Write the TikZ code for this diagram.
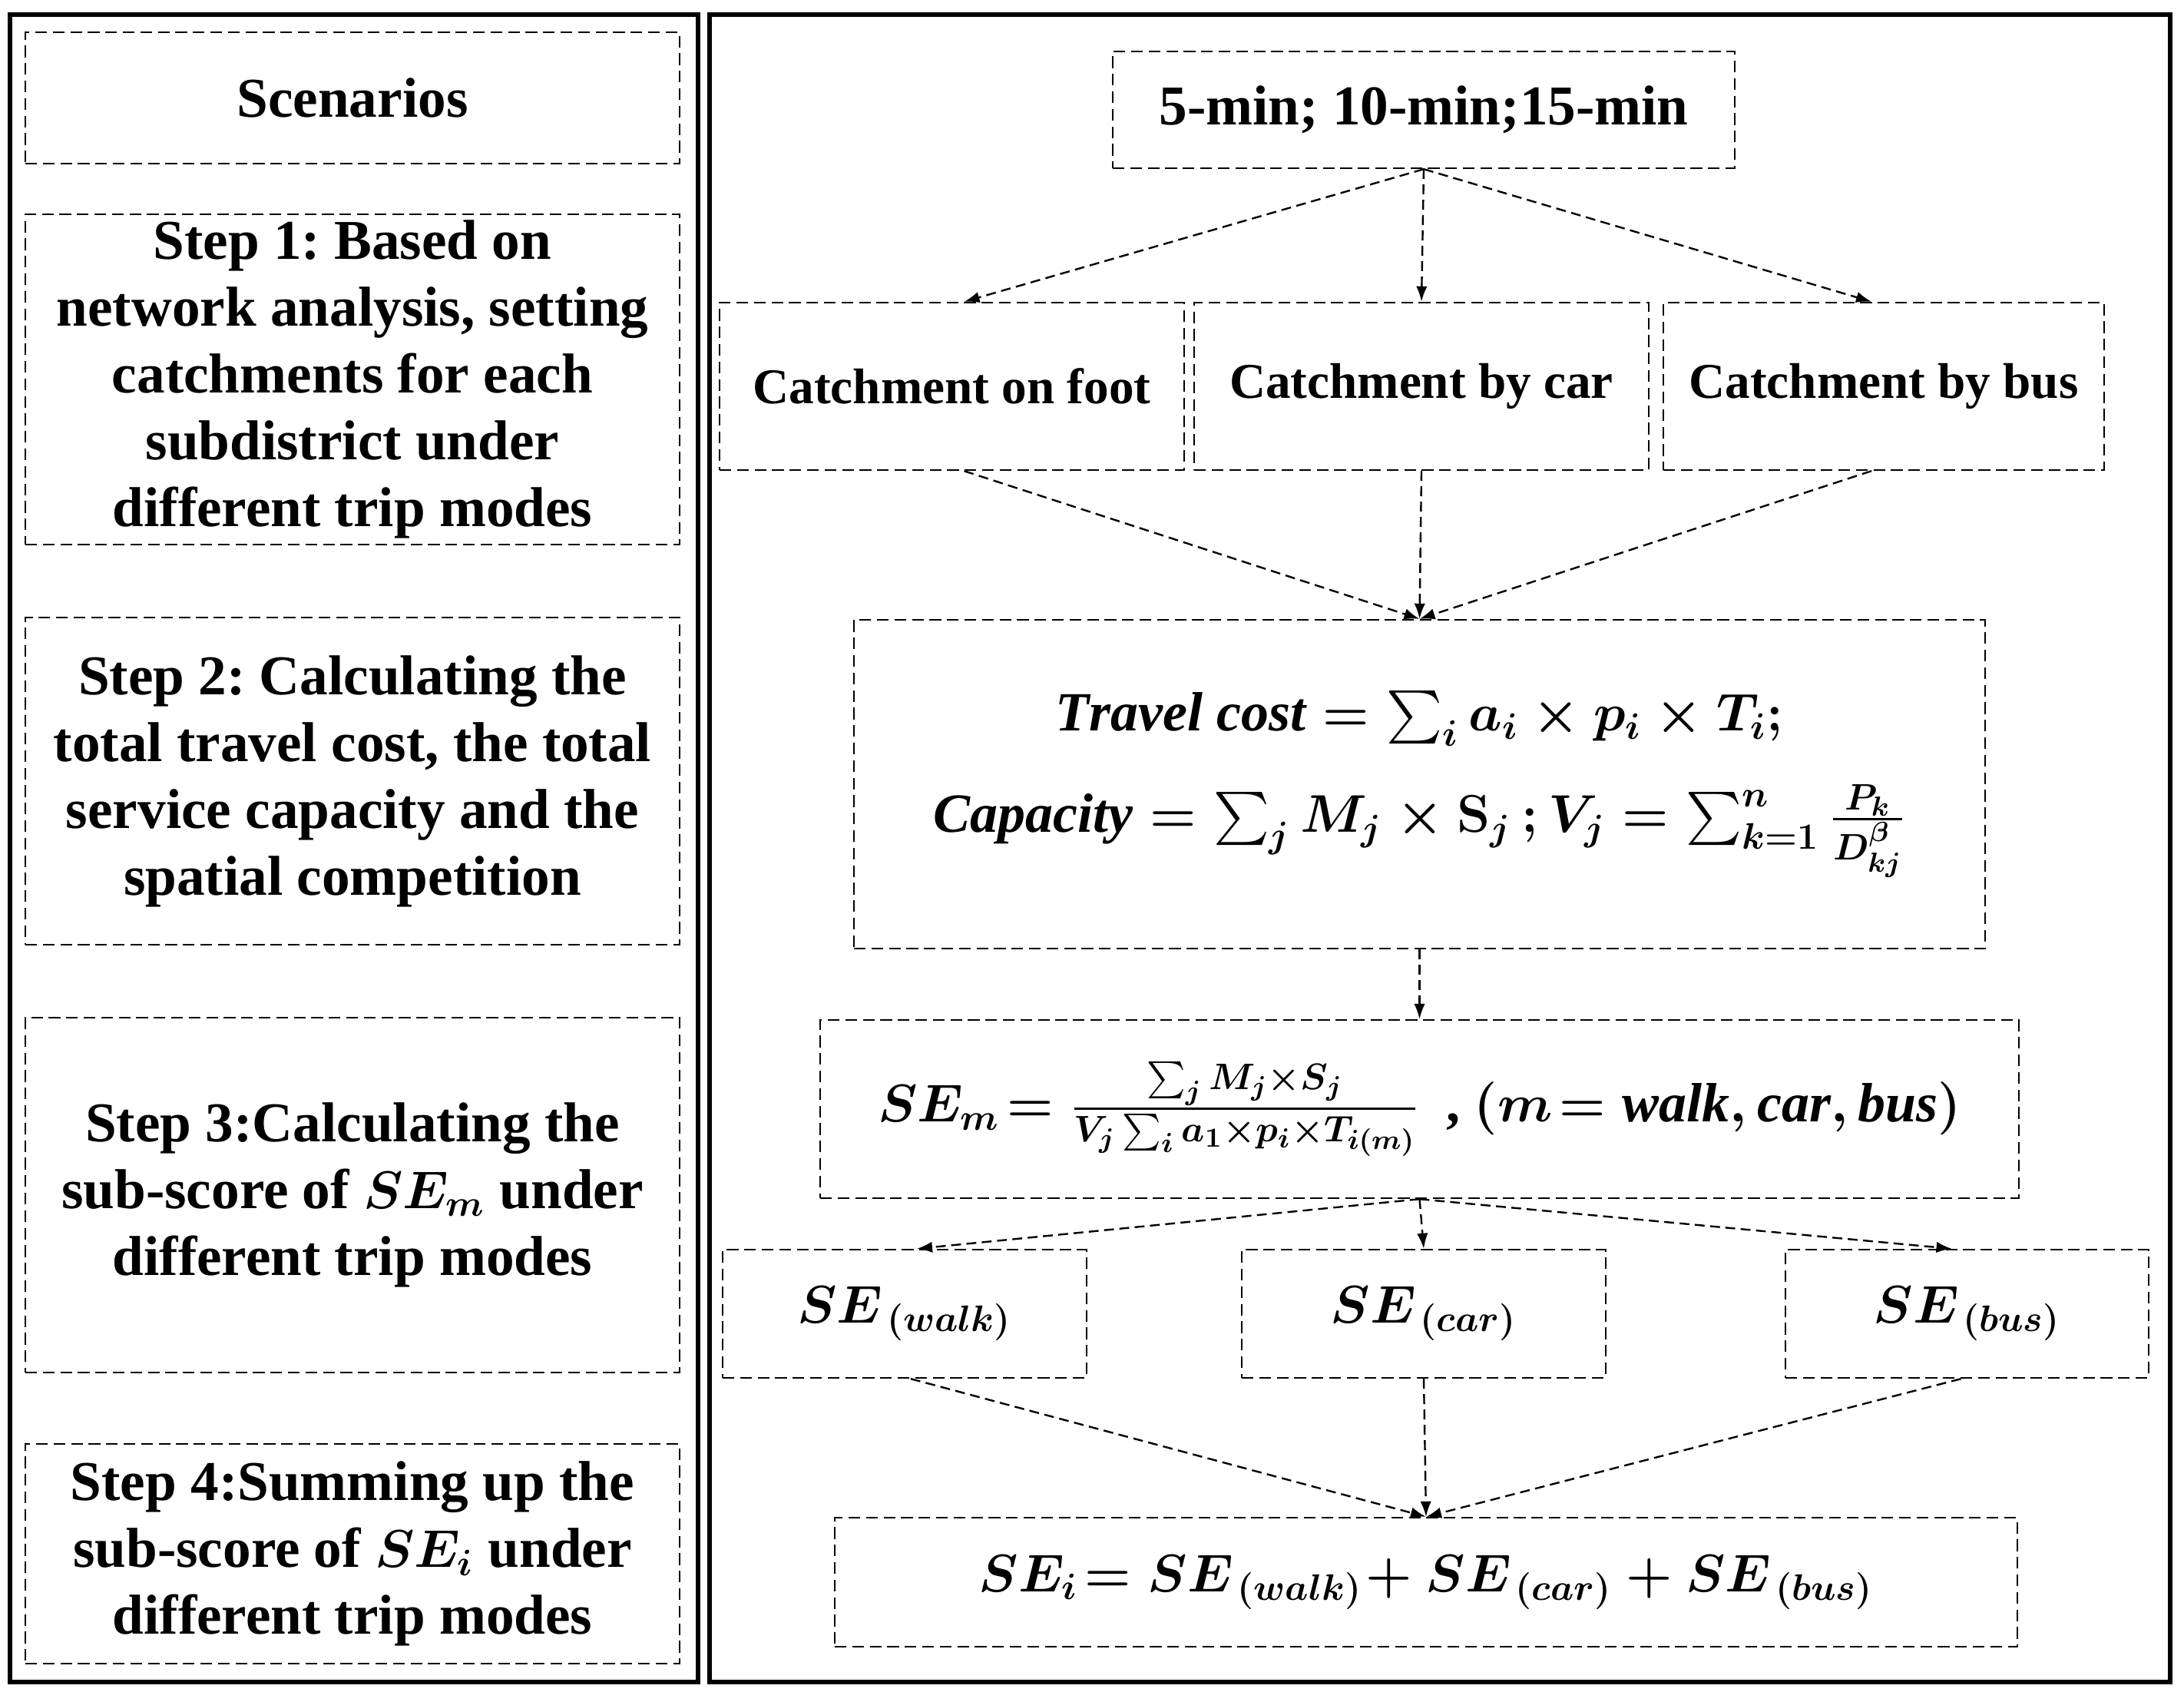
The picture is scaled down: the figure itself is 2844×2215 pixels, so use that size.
\documentclass[tikz,border=0pt]{standalone}
\usepackage{fontspec}
\usepackage{amsmath}
\setmainfont{Liberation Serif}
\usetikzlibrary{arrows.meta,calc}
\frenchspacing
\begin{document}
\begin{tikzpicture}[x=0.25pt,y=-0.25pt,
  outerbox/.style={draw, line width=1.7pt, inner sep=0pt},
  dbox/.style={draw, line width=0.6pt, dash pattern=on 3.8pt off 1.9pt, inner sep=2pt, align=center,
    font=\fontsize{18.3}{21.75}\selectfont\bfseries\boldmath},
  cbox/.style={dbox, font=\fontsize{16.3}{19.5}\selectfont\bfseries},
  mbox/.style={dbox, font=\fontsize{18}{25}\selectfont\bfseries\boldmath},
  arr/.style={line width=0.6pt, dash pattern=on 3.2pt off 1.8pt, -{Latex[length=5pt,width=3.6pt]}}
]
\useasboundingbox (0,0) rectangle (2844,2215);
\fill[white] (0,0) rectangle (2844,2215);
% outer frames
\node[outerbox, minimum width=224pt, minimum height=542.75pt] (L) at (461,1104.5) {};
\node[outerbox, minimum width=475.5pt, minimum height=542.75pt] (R) at (1875,1104.5) {};
% left column
\node[dbox, minimum width=213pt, minimum height=42.75pt] (scen) at (459,127.5) {Scenarios};
\node[dbox, minimum width=213pt, minimum height=106.75pt] (s1) at (459,494)
  {Step 1: Based on\\ network analysis, setting\\ catchments for each\\ subdistrict under\\ different trip modes};
\node[dbox, minimum width=213pt, minimum height=106.5pt] (s2) at (459,1017)
  {Step 2: Calculating the\\ total travel cost, the total\\ service capacity and the\\ spatial competition};
\node[dbox, minimum width=213pt, minimum height=115.5pt] (s3) at (459,1556)
  {Step 3:Calculating the\\ sub-score of $SE_m$ under\\ different trip modes};
\node[dbox, minimum width=213pt, minimum height=71.5pt] (s4) at (459,2023)
  {Step 4:Summing up the\\ sub-score of $SE_i$ under\\ different trip modes};
% right column
\node[dbox, minimum width=202.5pt, minimum height=38pt] (top) at (1854,143) {5-min; 10-min;15-min};
\node[cbox, minimum width=151.25pt, minimum height=54.5pt] (foot) at (1239.5,503) {Catchment on foot};
\node[cbox, minimum width=148pt, minimum height=54.5pt] (car) at (1851,503) {Catchment by car};
\node[cbox, minimum width=143.5pt, minimum height=54.5pt] (bus) at (2453,503) {Catchment by bus};
\node[mbox, minimum width=368.25pt, minimum height=107pt] (form) at (1848.5,1021)
  {$\mathit{Travel\ cost} = \sum_i a_i \times p_i \times T_i;$\\[8pt]
   $\mathit{Capacity} = \sum_j M_j \times \mathbf{S}_j\,; V_j = \sum_{k=1}^{n} \frac{P_k}{D_{kj}^{\beta}}$};
\node[mbox, minimum width=390.25pt, minimum height=58pt] (sem) at (1848.5,1444)
  {$SE_m\!= \frac{\sum_j M_j \times S_j}{V_j \sum_i a_1 \times p_i \times T_{i(m)}}$\ \ , $(m\!=\mathit{walk, car, bus})$};
\node[mbox, minimum width=118.5pt, minimum height=41.75pt] (sew) at (1178,1710.5) {$SE_{\,(walk)}$};
\node[mbox, minimum width=118.5pt, minimum height=41.75pt] (sec) at (1854,1710.5) {$SE_{\,(car)}$};
\node[mbox, minimum width=118.25pt, minimum height=41.75pt] (seb) at (2561.5,1710.5) {$SE_{\,(bus)}$};
\node[mbox, minimum width=385pt, minimum height=42pt] (sei) at (1857,2060)
  {$SE_i\!= SE_{\,(walk)}\!+ SE_{\,(car)} + SE_{\,(bus)}$};
% connectors
\draw[arr] (top.south) -- ([xshift=4pt]foot.north);
\draw[arr] (top.south) -- (car.north);
\draw[arr] (top.south) -- ([xshift=-4pt]bus.north);
\draw[arr] ([xshift=4pt]foot.south) -- (form.north);
\draw[arr] (car.south) -- (form.north);
\draw[arr] ([xshift=-4pt]bus.south) -- (form.north);
\draw[arr] (form.south) -- (sem.north);
\draw[arr] (sem.south) -- ([xshift=4pt]sew.north);
\draw[arr] (sem.south) -- (sec.north);
\draw[arr] (sem.south) -- ([xshift=-5pt]seb.north);
\draw[arr] ([xshift=2pt]sew.south) -- (sei.north);
\draw[arr] (sec.south) -- (sei.north);
\draw[arr] ([xshift=-2pt]seb.south) -- (sei.north);
\end{tikzpicture}
\end{document}
